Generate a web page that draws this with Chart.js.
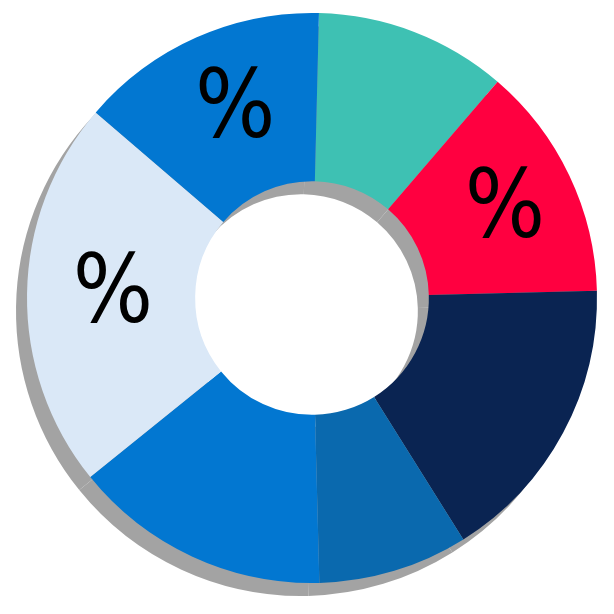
<!DOCTYPE html>
<html>
<head>
<meta charset="utf-8">
<script src="https://cdn.jsdelivr.net/npm/chart.js@4/dist/chart.umd.min.js"></script>
<style>
  html, body { margin: 0; padding: 0; background: #ffffff; }
  #wrap { position: relative; width: 614px; height: 614px; }
  #c { display: block; filter: drop-shadow(-11px 13px 0 #a3a3a3); }
</style>
</head>
<body>
<div id="wrap"><canvas id="c" width="614" height="614"></canvas></div>
<script>
// Segment data, clockwise from the top
const categories = ['Teal', 'Red', 'Navy', 'Medium blue', 'Blue', 'Light blue', 'Blue 2'];
const values = [10.9, 13.3, 16.5, 8.5, 14.6, 22.1, 14.1];
const segmentLabels = ['', '%', '', '', '', '%', '%'];
const colors = ['#3EC1B3', '#FF0040', '#0A2452', '#0A69AE', '#0277D1', '#DAE8F7', '#0277D1'];

const labelPlugin = {
  id: 'segLabels',
  afterDatasetsDraw(chart) {
    const ctx = chart.ctx;
    const meta = chart.getDatasetMeta(0);
    ctx.save();
    ctx.fillStyle = '#000000';
    ctx.font = '400 94px "DejaVu Sans Condensed", "DejaVu Sans", sans-serif';
    ctx.textAlign = 'center';
    ctx.textBaseline = 'middle';
    meta.data.forEach((arc, i) => {
      const t = segmentLabels[i];
      if (!t) return;
      const p = arc.getProps(['x', 'y', 'startAngle', 'endAngle', 'innerRadius', 'outerRadius'], true);
      const mid = (p.startAngle + p.endAngle) / 2;
      const r = p.innerRadius + 0.53 * (p.outerRadius - p.innerRadius);
      ctx.fillText(t, p.x + 7 + Math.cos(mid) * r, p.y + 3 + Math.sin(mid) * r);
    });
    ctx.restore();
  }
};

new Chart(document.getElementById('c'), {
  type: 'doughnut',
  data: {
    labels: categories,
    datasets: [{
      data: values,
      backgroundColor: colors,
      borderWidth: 0,
      hoverOffset: 0
    }]
  },
  options: {
    responsive: false,
    devicePixelRatio: 1,
    animation: false,
    rotation: 1.4,
    cutout: '41%',
    layout: { padding: { left: 27, right: 17, top: 13, bottom: 31 } },
    plugins: {
      legend: { display: false },
      tooltip: { enabled: false }
    }
  },
  plugins: [labelPlugin]
});
</script>
</body>
</html>
